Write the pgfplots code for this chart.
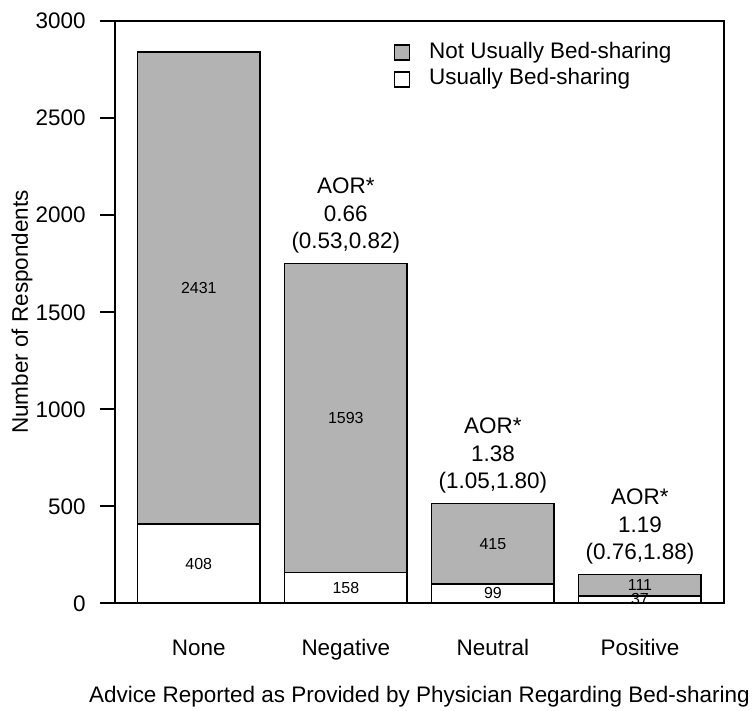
\documentclass[border=0pt]{standalone}
\usepackage{pgfplots}
\pgfplotsset{compat=1.18}
\usepackage{fontspec}
\setmainfont{Liberation Sans}
\definecolor{bargray}{HTML}{B3B3B3}
\newcommand{\inbar}{\fontsize{16}{19}\selectfont}
\begin{document}
\begin{tikzpicture}[font=\fontsize{22.5}{27.5}\selectfont]
\begin{axis}[
  width=610pt, height=583pt, scale only axis,
  ybar stacked, bar width=0.833,
  xmin=-0.571, xmax=3.571, ymin=0, ymax=3000,
  xtick={0,1,2,3}, xticklabels={None,Negative,Neutral,Positive},
  ytick={0,500,1000,1500,2000,2500,3000},
  scaled ticks=false,
  /pgf/number format/1000 sep={},
  /pgf/number format/assume math mode=true,
  axis line style={line width=1.5pt},
  tick align=outside, major tick length=15pt,
  ytick pos=left, xtick pos=bottom,
  xtick style={draw=none},
  ytick style={black, line width=1.5pt},
  yticklabel style={anchor=base east, inner sep=0pt, xshift=-14pt, yshift=-8pt},
  xticklabel style={anchor=base, inner sep=0pt, yshift=-37pt},
  xlabel={Advice Reported as Provided by Physician Regarding Bed-sharing},
  ylabel={Number of Respondents},
  every axis x label/.style={at={(rel axis cs:0.5,0)}, anchor=center, yshift=-94pt},
  every axis y label/.style={at={(rel axis cs:0,0.5)}, xshift=-93pt, rotate=90, anchor=center},
  legend style={draw=none, fill=none, at={(0.4525,0.971)}, anchor=north west,
    nodes={inner sep=2pt, text height=16pt, text depth=5pt}, row sep=2pt},
  legend cell align=left,
  reverse legend,
  legend image code/.code={\draw[#1, line width=1.2pt] (0pt,-7.5pt) rectangle (15pt,7.5pt); \path[draw=none, fill=none] (0pt,0pt) -- (33pt,0pt);},
]
\addplot[draw=black, line width=1.5pt, fill=white] coordinates {(0,408) (1,158) (2,99) (3,37)};
\addplot[draw=black, line width=1.5pt, fill=bargray] coordinates {(0,2431) (1,1593) (2,415) (3,111)};
\legend{Usually Bed-sharing, Not Usually Bed-sharing}

\coordinate (l1) at (axis cs:0,1623.5);
\coordinate (l2) at (axis cs:0,204);
\coordinate (l3) at (axis cs:1,954.5);
\coordinate (l4) at (axis cs:1,79);
\coordinate (l5) at (axis cs:2,306.5);
\coordinate (l6) at (axis cs:2,49.5);
\coordinate (l7) at (axis cs:3,92.5);
\coordinate (l8) at (axis cs:3,18.5);

\node[align=center, anchor=south, inner sep=0pt, yshift=10pt] at (axis cs:1,1751) {AOR*\\0.66\\(0.53,0.82)};
\node[align=center, anchor=south, inner sep=0pt, yshift=10pt] at (axis cs:2,514) {AOR*\\1.38\\(1.05,1.80)};
\node[align=center, anchor=south, inner sep=0pt, yshift=10pt] at (axis cs:3,148) {AOR*\\1.19\\(0.76,1.88)};
\end{axis}
\begin{scope}[every node/.style={font=\inbar}]
\node at (l1) {2431};
\node at (l2) {408};
\node at (l3) {1593};
\node at (l4) {158};
\node at (l5) {415};
\node at (l6) {99};
\node at (l7) {111};
\node at (l8) {37};
\end{scope}
\path ([shift={(-115pt,-107pt)}]current axis.south west) rectangle ([shift={(28pt,21pt)}]current axis.north east);
\end{tikzpicture}
\end{document}
